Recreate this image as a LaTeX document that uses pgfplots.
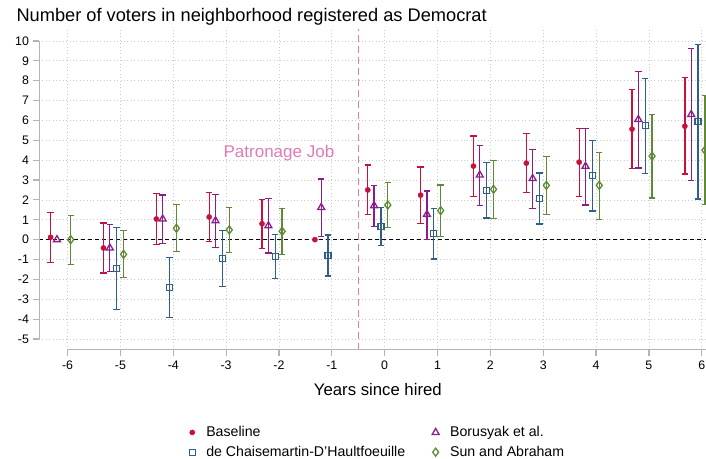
\documentclass[border=0pt]{standalone}
\usepackage{fontspec}
\setmainfont{Liberation Sans}
\usepackage{pgfplots}
\pgfplotsset{compat=1.18}
\usepackage{pgfplotstable}
\usetikzlibrary{calc}

\definecolor{cBase}{HTML}{C8103C}
\definecolor{cBor}{HTML}{8C1C8C}
\definecolor{cDC}{HTML}{2F5F8A}
\definecolor{cSun}{HTML}{5F8A35}
\definecolor{cPink}{HTML}{E07BB5}
\definecolor{cAxis}{HTML}{B4B4B4}

\pgfplotstableread{
t y hi lo
-6 0.12 1.37 -1.14
-5 -0.42 0.84 -1.68
-4 1.04 2.33 -0.25
-3 1.14 2.38 -0.10
-2 0.80 2.03 -0.44
0 2.50 3.75 1.26
1 2.24 3.65 0.82
2 3.70 5.21 2.18
3 3.85 5.33 2.36
4 3.90 5.61 2.18
5 5.56 7.54 3.58
6 5.71 8.16 3.30
}\base
\pgfplotstableread{
t y
-1 0.00
}\baseref

\pgfplotstableread{
t y hi lo
-5 -0.42 0.75 -1.61
-4 1.04 2.24 -0.20
-3 0.95 2.26 -0.40
-2 0.70 2.06 -0.67
-1 1.62 3.05 0.17
0 1.71 2.71 0.65
1 1.27 2.45 0.00
2 3.25 4.74 1.71
3 3.08 4.52 1.57
4 3.69 5.61 1.74
5 6.05 8.46 3.60
6 6.30 9.61 2.96
}\bor
\pgfplotstableread{
t y
-6 0.00
}\borref

\pgfplotstableread{
t y hi lo
-5 -1.44 0.62 -3.52
-4 -2.40 -0.89 -3.92
-3 -0.95 0.45 -2.36
-2 -0.85 0.25 -1.94
-1 -0.80 0.23 -1.83
0 0.67 1.61 -0.28
1 0.30 1.57 -0.97
2 2.48 3.87 1.09
3 2.08 3.35 0.79
4 3.22 4.99 1.44
5 5.73 8.12 3.32
6 5.93 9.83 2.04
}\dcdh

\pgfplotstableread{
t y hi lo
-6 0.00 1.21 -1.26
-5 -0.74 0.45 -1.91
-4 0.57 1.76 -0.60
-3 0.49 1.62 -0.65
-2 0.42 1.56 -0.74
0 1.74 2.86 0.60
1 1.46 2.75 0.15
2 2.53 3.99 1.07
3 2.73 4.17 1.27
4 2.73 4.39 1.02
5 4.20 6.31 2.09
6 4.50 7.25 1.78
}\sun

\pgfplotsset{
  ebar/.style={
    only marks,
    error bars/.cd, y dir=both, y explicit,
    error bar style={line width=1.3bp, #1},
    error mark options={rotate=90, mark size=3.2bp, line width=1.3bp, #1},
  },
}

\begin{document}
\begin{tikzpicture}
\begin{axis}[
  name=ax,
  x=52.85bp, y=19.87bp,
  xmin=-6.54, xmax=6.08, ymin=-5.55, ymax=10.6,
  xtick={-6,...,6}, ytick={-5,...,10},
  axis line style={draw=none},
  tick align=outside, xtick pos=bottom, ytick pos=left,
  major tick length=6.5bp,
  tick style={cAxis, line width=1.2bp},
  grid=major,
  grid style={cAxis!70, line width=0.7bp, dash pattern=on 0.8bp off 2.6bp},
  /pgf/number format/assume math mode=true,
  tick label style={font=\fontsize{12.4}{14}\selectfont},
  xticklabel style={yshift=-1bp},
  xlabel={Years since hired},
  xlabel style={font=\fontsize{16.8}{19}\selectfont, at={(axis description cs:0.508,0)}, anchor=base, yshift=-46bp},
  legend columns=2,
  legend cell align=left,
  legend image code/.code={\draw[mark repeat=2,mark phase=2,#1] plot coordinates {(0bp,0bp) (5bp,0bp) (10bp,0bp)};},
  legend style={draw=none, fill=none, inner sep=0pt,
    at={(axis description cs:0.225,-0.232)}, anchor=north west,
    font=\fontsize{14.2}{16}\selectfont,
    /tikz/row sep=4bp,
    /tikz/every odd column/.append style={column sep=9bp},
    /tikz/every even column/.append style={column sep=25bp}},
]
% reference lines
\addplot[forget plot, black, line width=1.2bp, dash pattern=on 4bp off 3bp] coordinates {(-6.54,0) (6.08,0)};
\addplot[forget plot, cPink, line width=1.2bp, dash pattern=on 7bp off 4bp] coordinates {(-0.5,-5.55) (-0.5,10.6)};
\node[text=cPink, font=\fontsize{17.1}{19}\selectfont, anchor=center] at (axis cs:-2.0,4.38) {Patronage Job};

% Baseline
\addplot[cBase, mark=*, mark size=2.6bp, ebar=cBase]
  table[x expr=\thisrow{t}-0.32, y=y, y error plus expr=\thisrow{hi}-\thisrow{y}, y error minus expr=\thisrow{y}-\thisrow{lo}] {\base};
\addlegendentry{Baseline}
% Borusyak
\addplot[cBor, mark=triangle, mark size=4bp, mark options={line width=1.3bp}, ebar=cBor]
  table[x expr=\thisrow{t}-0.20, y=y, y error plus expr=\thisrow{hi}-\thisrow{y}, y error minus expr=\thisrow{y}-\thisrow{lo}] {\bor};
\addlegendentry{Borusyak et al.}
% dCDH
\addplot[cDC, mark=square, mark size=3bp, mark options={line width=1.3bp}, ebar=cDC]
  table[x expr=\thisrow{t}-0.07, y=y, y error plus expr=\thisrow{hi}-\thisrow{y}, y error minus expr=\thisrow{y}-\thisrow{lo}] {\dcdh};
\addlegendentry{de Chaisemartin-D'Haultfoeuille}
% Sun and Abraham
\addplot[cSun, mark=diamond, mark size=4bp, mark options={line width=1.3bp}, ebar=cSun]
  table[x expr=\thisrow{t}+0.06, y=y, y error plus expr=\thisrow{hi}-\thisrow{y}, y error minus expr=\thisrow{y}-\thisrow{lo}] {\sun};
\addlegendentry{Sun and Abraham}

% reference-period points without intervals
\addplot[forget plot, only marks, cBase, mark=*, mark size=2.6bp] table[x expr=\thisrow{t}-0.32, y=y] {\baseref};
\addplot[forget plot, only marks, cBor, mark=triangle, mark size=4bp, mark options={line width=1.3bp}] table[x expr=\thisrow{t}-0.20, y=y] {\borref};

% axis lines (span of the ticks)
\draw[cAxis, line width=1.4bp] (axis cs:-6.54,-5) -- (axis cs:-6.54,10);
\draw[cAxis, line width=1.4bp] (axis cs:-6,-5.55) -- (axis cs:6.08,-5.55);
\end{axis}
\node[anchor=base west, font=\fontsize{18.3}{21}\selectfont] at ($(ax.north west)+(-26bp,7bp)$) {Number of voters in neighborhood registered as Democrat};
\pgfresetboundingbox
\path[use as bounding box] ($(ax.south west)+(-39bp,-109bp)$) rectangle ($(ax.north east)+(0bp,29bp)$);
\end{tikzpicture}
\end{document}
